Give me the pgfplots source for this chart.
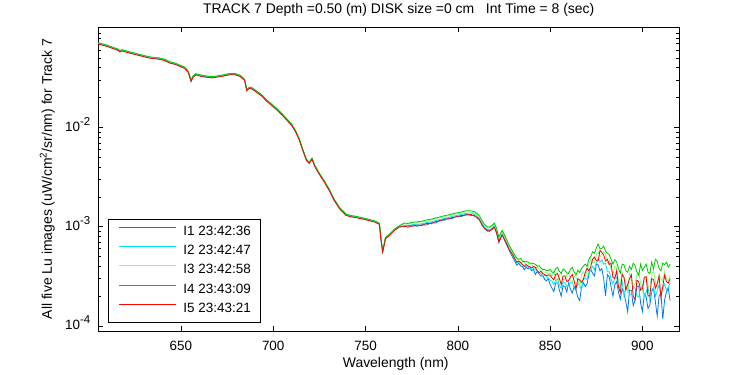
\documentclass[border=0pt]{standalone}
\usepackage{pgfplots}
\pgfplotsset{compat=1.18}
\usepackage{pgfplotstable}
\usepackage{fontspec}
\setmainfont{Liberation Sans}
\definecolor{cI1}{RGB}{0,120,240}
\definecolor{cI2}{RGB}{0,230,240}
\definecolor{cI3}{RGB}{128,255,128}
\definecolor{cI4}{RGB}{0,200,0}
\definecolor{cI5}{RGB}{255,0,0}
\newcommand{\tenpow}[1]{10\raisebox{6bp}{\fontsize{11.5}{11.5}\selectfont #1}}
\pgfplotstableread{
wl I1 I2 I3 I4 I5
605 0.0702 0.0702 0.0716 0.0716 0.0695
610 0.0663 0.0663 0.0676 0.0676 0.0656
616 0.0604 0.0604 0.0616 0.0616 0.0598
617 0.0583 0.0583 0.0595 0.0595 0.0577
618 0.0597 0.0597 0.0609 0.0609 0.0591
622 0.0570 0.0570 0.0581 0.0581 0.0564
627 0.0538 0.0538 0.0549 0.0549 0.0533
633 0.0505 0.0505 0.0515 0.0515 0.0500
638 0.0493 0.0493 0.0503 0.0503 0.0488
641 0.0479 0.0479 0.0489 0.0489 0.0474
644 0.0450 0.0450 0.0459 0.0459 0.0446
647 0.0436 0.0436 0.0445 0.0445 0.0432
649 0.0420 0.0420 0.0428 0.0428 0.0416
652 0.0398 0.0398 0.0406 0.0406 0.0394
654 0.0362 0.0362 0.0369 0.0369 0.0358
655.5 0.0294 0.0294 0.0300 0.0300 0.0291
656.5 0.0323 0.0323 0.0329 0.0329 0.0320
658 0.0342 0.0342 0.0349 0.0349 0.0339
662 0.0327 0.0327 0.0334 0.0334 0.0324
667 0.0319 0.0319 0.0325 0.0325 0.0316
672 0.0330 0.0330 0.0337 0.0337 0.0327
676 0.0342 0.0342 0.0349 0.0349 0.0339
679 0.0344 0.0344 0.0351 0.0351 0.0341
682 0.0330 0.0330 0.0337 0.0337 0.0327
684.5 0.0301 0.0301 0.0307 0.0307 0.0298
685.7 0.0236 0.0236 0.0241 0.0241 0.0234
687 0.0250 0.0250 0.0255 0.0255 0.0248
688.5 0.0247 0.0247 0.0252 0.0252 0.0245
691 0.0228 0.0228 0.0233 0.0233 0.0226
694 0.0208 0.0208 0.0212 0.0212 0.0206
696 0.0189 0.0189 0.0193 0.0193 0.0187
699 0.0170 0.0170 0.0173 0.0173 0.0168
702 0.0152 0.0152 0.0155 0.0155 0.0150
705 0.01336 0.01336 0.01363 0.01363 0.01323
707 0.01218 0.01218 0.01242 0.01242 0.01206
710 0.01060 0.01060 0.01081 0.01081 0.01049
712 0.00922 0.00922 0.00940 0.00940 0.00913
714 0.00766 0.00766 0.00781 0.00781 0.00758
716 0.00593 0.00593 0.00605 0.00605 0.00587
718 0.00470 0.00470 0.00479 0.00479 0.00465
719.5 0.00439 0.00439 0.00448 0.00448 0.00435
721 0.00482 0.00482 0.00492 0.00492 0.00477
722.5 0.00409 0.00409 0.00417 0.00417 0.00405
725 0.00340 0.00340 0.00347 0.00347 0.00337
727.7 0.00284 0.00284 0.00290 0.00290 0.00281
730.5 0.00231 0.00231 0.00236 0.00236 0.00229
733 0.00186 0.00186 0.00190 0.00190 0.00184
736 0.00153 0.00153 0.00156 0.00156 0.00151
739.5 0.00131 0.00131 0.00134 0.00134 0.00130
742 0.00127 0.00127 0.00130 0.00130 0.00126
745 0.001245 0.001245 0.00127 0.00127 0.001233
750 0.001189 0.001189 0.001213 0.001213 0.001177
755 0.001124 0.001124 0.001146 0.001146 0.001113
757.5 0.001066 0.001066 0.001087 0.001087 0.001055
758.4 0.000735 0.000735 0.000750 0.000750 0.000728
759.3 0.000561 0.000561 0.000572 0.000572 0.000555
760.8 0.000765 0.000765 0.000780 0.000780 0.000757
763 0.000826 0.000826 0.000843 0.000843 0.000818
765.7 0.000928 0.000928 0.000947 0.000947 0.000919
768.4 0.001006 0.001006 0.001026 0.001026 0.000996
771 0.00101 0.00103 0.00107 0.00109 0.00100
773 0.00099 0.00102 0.00106 0.00108 0.00102
775.5 0.00104 0.00105 0.00109 0.00111 0.00101
778 0.00101 0.00106 0.00110 0.00112 0.00104
780.5 0.00105 0.00107 0.00112 0.00114 0.00103
783 0.00104 0.00110 0.00114 0.00117 0.00108
785.5 0.00110 0.00112 0.00117 0.00119 0.00107
788 0.00109 0.00115 0.00120 0.00123 0.00113
790 0.00116 0.00118 0.00123 0.00125 0.00114
792.5 0.00116 0.00121 0.00126 0.00129 0.00119
795 0.00122 0.00124 0.00129 0.00132 0.00120
797 0.00121 0.00127 0.00132 0.00135 0.00124
799.5 0.00128 0.00130 0.00135 0.00138 0.00126
802 0.00127 0.00133 0.00138 0.00141 0.00130
804.5 0.00134 0.00136 0.00141 0.00145 0.00131
807 0.00130 0.00138 0.00141 0.00145 0.00133
809 0.00131 0.00133 0.00138 0.00142 0.00128
810.5 0.00122 0.00127 0.00132 0.00136 0.00124
811.7 0.00119 0.00121 0.00126 0.00129 0.00117
813 0.00104 0.00109 0.00113 0.00116 0.00106
814.4 0.00097 0.00099 0.00103 0.00106 0.00096
816 0.00090 0.00094 0.00098 0.00100 0.00092
817.1 0.00091 0.00093 0.00097 0.00099 0.00090
818.5 0.00093 0.00097 0.00101 0.00103 0.00095
819.8 0.00100 0.00102 0.00106 0.00109 0.00099
821 0.00085 0.00089 0.00093 0.00096 0.00087
822.2 0.00069 0.00073 0.00076 0.00079 0.00071
824 0.00083 0.00085 0.00089 0.00092 0.00083
826.2 0.00067 0.00070 0.00073 0.00076 0.00069
828 0.00057 0.00059 0.00062 0.00064 0.00058
830 0.000480 0.000500 0.000530 0.000550 0.000515
831 0.000445 0.000462 0.000490 0.000515 0.000470
832 0.000410 0.000432 0.000478 0.000480 0.000440
833 0.000430 0.000440 0.000452 0.000470 0.000452
834 0.000402 0.000420 0.000428 0.000480 0.000438
835 0.000398 0.000415 0.000445 0.000452 0.000418
836 0.000368 0.000395 0.000440 0.000445 0.000400
837 0.000392 0.000400 0.000418 0.000450 0.000416
838 0.000376 0.000392 0.000405 0.000440 0.000402
839 0.000388 0.000385 0.000425 0.000428 0.000395
840 0.000360 0.000372 0.000418 0.000430 0.000385
841 0.000370 0.000380 0.000392 0.000425 0.000398
842 0.000330 0.000368 0.000380 0.000418 0.000390
843 0.000355 0.000360 0.000395 0.000400 0.000362
844 0.000335 0.000342 0.000372 0.000405 0.000345
845 0.000318 0.000340 0.000360 0.000385 0.000355
846 0.000325 0.000318 0.000348 0.000368 0.000338
847 0.000295 0.000322 0.000350 0.000372 0.000330
848 0.000285 0.000315 0.000345 0.000360 0.000322
849 0.000300 0.000305 0.000330 0.000362 0.000326
850 0.000262 0.000290 0.000342 0.000372 0.000325
851 0.000240 0.000282 0.000320 0.000350 0.000305
852 0.000222 0.000262 0.000355 0.000345 0.000292
853 0.000270 0.000290 0.000300 0.000380 0.000330
854 0.000275 0.000298 0.000272 0.000390 0.000338
855 0.000230 0.000260 0.000330 0.000355 0.000300
856 0.000200 0.000240 0.000340 0.000340 0.000262
857 0.000255 0.000280 0.000295 0.000375 0.000318
858 0.000250 0.000272 0.000290 0.000365 0.000320
859 0.000220 0.000250 0.000325 0.000342 0.000280
860 0.000272 0.000258 0.000348 0.000338 0.000288
861 0.000235 0.000275 0.000300 0.000372 0.000312
862 0.000215 0.000278 0.000275 0.000390 0.000330
863 0.000250 0.000240 0.000318 0.000350 0.000285
864 0.000230 0.000236 0.000310 0.000325 0.000236
865 0.000195 0.000268 0.000290 0.000365 0.000300
866 0.000180 0.000256 0.000248 0.000345 0.000290
867 0.000245 0.000230 0.000330 0.000380 0.000275
868 0.000272 0.000304 0.000352 0.000400 0.000295
869 0.000250 0.000300 0.000315 0.000420 0.000345
870 0.000265 0.000295 0.000355 0.000398 0.000382
871 0.000335 0.000345 0.000420 0.000470 0.000360
872 0.000370 0.000370 0.000472 0.000500 0.000398
873 0.000340 0.000400 0.000430 0.000560 0.000470
874 0.000320 0.000368 0.000438 0.000540 0.000495
875 0.000420 0.000430 0.000520 0.000610 0.000455
876 0.000412 0.000475 0.000556 0.000670 0.000455
877 0.000360 0.000440 0.000500 0.000600 0.000580
878 0.000378 0.000465 0.000530 0.000605 0.000550
879 0.000300 0.000420 0.000560 0.000640 0.000520
880 0.000200 0.000428 0.000525 0.000570 0.000452
881 0.000330 0.000350 0.000430 0.000540 0.000470
882 0.000311 0.000353 0.000457 0.000520 0.000415
883 0.000250 0.000300 0.000370 0.000470 0.000430
884 0.000200 0.000263 0.000330 0.000420 0.000310
885 0.000260 0.000310 0.000400 0.000465 0.000300
886 0.000280 0.000312 0.000395 0.000443 0.000360
887 0.000220 0.000240 0.000280 0.000380 0.000250
888 0.000186 0.000248 0.000265 0.000340 0.000217
889 0.000240 0.000280 0.000345 0.000420 0.000330
890 0.000212 0.000201 0.000310 0.000413 0.000310
891 0.000175 0.000250 0.000260 0.000360 0.000230
892 0.000139 0.000261 0.000218 0.000348 0.000261
893 0.000230 0.000205 0.000340 0.000400 0.000300
894 0.000228 0.000214 0.000328 0.000371 0.000328
895 0.000160 0.000250 0.000240 0.000430 0.000200
896 0.000183 0.000239 0.000267 0.000407 0.000183
897 0.000250 0.000200 0.000330 0.000350 0.000290
898 0.000252 0.000196 0.000350 0.000322 0.000280
899 0.000170 0.000240 0.000270 0.000420 0.000230
900 0.000140 0.000258 0.000224 0.000364 0.000238
901 0.000210 0.000200 0.000300 0.000390 0.000310
902 0.000196 0.000218 0.000308 0.000420 0.000314
903 0.000150 0.000250 0.000250 0.000350 0.000200
904 0.000162 0.000182 0.000252 0.000336 0.000202
905 0.000225 0.000230 0.000330 0.000440 0.000300
906 0.000238 0.000246 0.000364 0.000378 0.000294
907 0.000175 0.000200 0.000280 0.000470 0.000240
908 0.000126 0.000225 0.000239 0.000450 0.000267
909 0.000200 0.000260 0.000330 0.000380 0.000320
910 0.000215 0.000207 0.000301 0.000359 0.000195
911 0.000118 0.000240 0.000280 0.000430 0.000250
912 0.000183 0.000266 0.000354 0.000413 0.000325
913 0.000220 0.000230 0.000300 0.000440 0.000280
914 0.000240 0.000246 0.000285 0.000390 0.000270
915 0.000180 0.000270 0.000320 0.000420 0.000300
}\spectra

\begin{document}
\fontsize{13.5}{15}\selectfont
\begin{tikzpicture}
\begin{axis}[
  scale only axis,
  width=580.6bp, height=304bp,
  xmin=605.3, xmax=919.8,
  ymode=log, ymin=8.9e-5, ymax=0.103,
  xtick={650,700,750,800,850,900},
  ytick={1e-4,1e-3,1e-2},
  yticklabels={\tenpow{-4},\tenpow{-3},\tenpow{-2}},
  minor ytick={2e-4,3e-4,4e-4,5e-4,6e-4,7e-4,8e-4,9e-4,2e-3,3e-3,4e-3,5e-3,6e-3,7e-3,8e-3,9e-3,2e-2,3e-2,4e-2,5e-2,6e-2,7e-2,8e-2,9e-2},
  /pgf/number format/assume math mode=true,
  tick align=inside,
  major tick length=5bp, minor tick length=3bp,
  every tick/.style={black, line width=0.6bp},
  axis line style={black, line width=0.75bp},
  tick label style={font=\fontsize{13.5}{15}\selectfont},
  xticklabel style={anchor=base, inner sep=0pt, yshift=-19.3bp},
  yticklabel style={anchor=base east, inner sep=0pt, xshift=-8bp, yshift=-4bp},
  title={TRACK 7 Depth =0.50 (m) DISK size =0 cm\ \ \ Int Time = 8 (sec)},
  title style={font=\fontsize{14}{16}\selectfont, at={(axis description cs:0.5,1)}, anchor=base, yshift=7.7bp, xshift=10bp, inner sep=0pt},
  xlabel={Wavelength (nm)},
  xlabel style={font=\fontsize{14}{16}\selectfont, at={(axis description cs:0.5,-0.12)}, anchor=base, xshift=7bp, inner sep=0pt},
  ylabel={All five Lu images (uW/cm\textsuperscript{2}/sr/nm) for Track 7},
  ylabel style={font=\fontsize{14}{16}\selectfont, at={(axis description cs:-0.075,0.5)}, anchor=south, inner sep=0pt},
  no markers,
  legend cell align=left,
  legend image code/.code={\draw[#1, line width=1.1bp] (0bp,4.5bp) -- (57bp,4.5bp);},
  legend style={at={(axis description cs:0,0)}, anchor=south west, xshift=10bp, yshift=8.7bp,
    draw=black, line width=0.75bp, fill=white, font=\fontsize{13.5}{15}\selectfont,
    inner xsep=10bp, inner ysep=7bp, row sep=7.25bp, column sep=6.6bp,
    nodes={inner sep=0pt, text height=9.5bp, text depth=2.5bp}},
]
\addplot[cI1, line width=0.8bp] table[x=wl,y=I1]{\spectra};
\addlegendentry{I1 23:42:36}
\addplot[cI2, line width=0.8bp] table[x=wl,y=I2]{\spectra};
\addlegendentry{I2 23:42:47}
\addplot[cI3, line width=0.8bp] table[x=wl,y=I3]{\spectra};
\addlegendentry{I3 23:42:58}
\addplot[cI4, line width=0.8bp] table[x=wl,y=I4]{\spectra};
\addlegendentry{I4 23:43:09}
\addplot[cI5, line width=0.8bp] table[x=wl,y=I5]{\spectra};
\addlegendentry{I5 23:43:21}
\coordinate (ll) at (rel axis cs:0,0);
\coordinate (ur) at (rel axis cs:1,1);
\end{axis}
\pgfresetboundingbox
\path[use as bounding box] ([shift={(-98.4bp,-44bp)}]ll) rectangle ([shift={(71bp,27bp)}]ur);
\end{tikzpicture}
\end{document}
